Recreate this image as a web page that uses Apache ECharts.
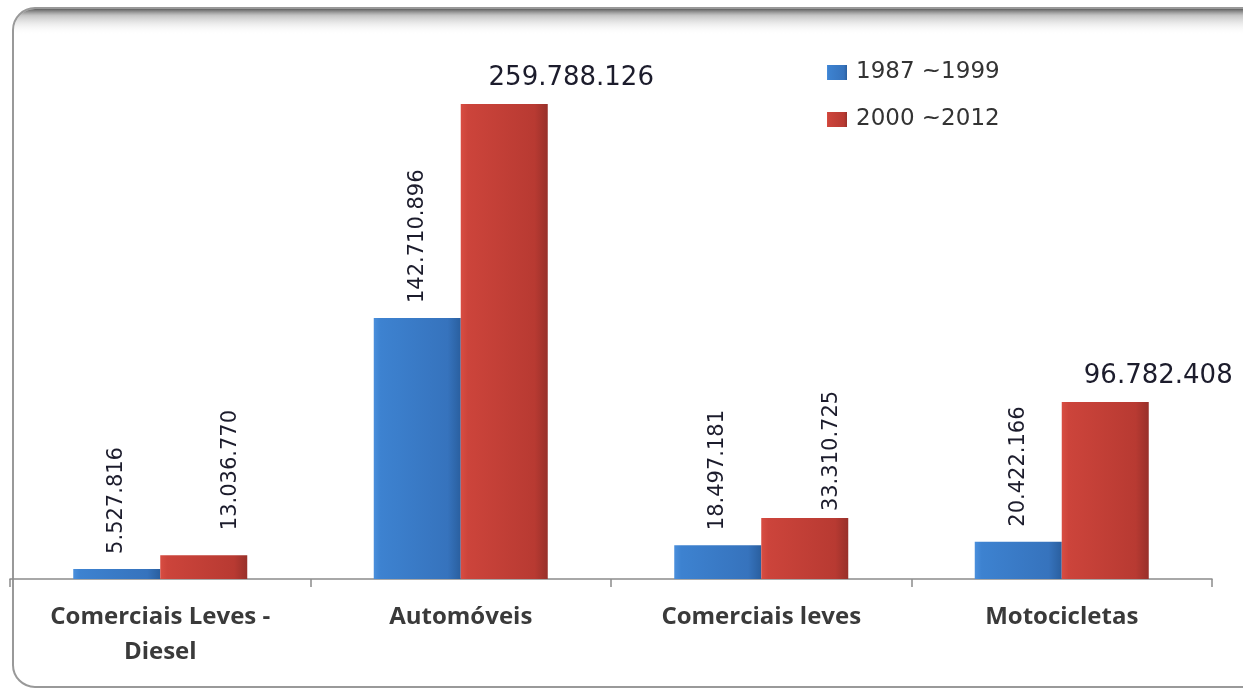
<!DOCTYPE html>
<html>
<head>
<meta charset="utf-8">
<script src="https://cdn.jsdelivr.net/npm/echarts@6/dist/echarts.min.js"></script>
<style>html,body{margin:0;padding:0;background:#fff;}#c{width:1243px;height:692px;}</style>
</head>
<body>
<div id="c"></div>
<script>
var categories = ['Comerciais Leves -\nDiesel', 'Automóveis', 'Comerciais leves', 'Motocicletas'];
var seriesNames = ['1987 ~1999', '2000 ~2012'];
var values1987 = [5527816, 142710896, 18497181, 20422166];
var values2000 = [13036770, 259788126, 33310725, 96782408];
var horizontalLabelIdx = [1, 3];   // red labels drawn horizontally
var horizontalOffsets = [67, 53];

function fmt(v) { return String(v).replace(/\B(?=(\d{3})+(?!\d))/g, '.'); }

var chart = echarts.init(document.getElementById('c'));

var blueGrad = new echarts.graphic.LinearGradient(0, 0, 1, 0, [
  {offset: 0, color: '#4a8fdc'}, {offset: 0.08, color: '#3d82d0'},
  {offset: 0.85, color: '#3673bd'}, {offset: 1, color: '#2a5f9f'}]);
var redGrad = new echarts.graphic.LinearGradient(0, 0, 1, 0, [
  {offset: 0, color: '#d84d42'}, {offset: 0.08, color: '#cc443b'},
  {offset: 0.85, color: '#b83a32'}, {offset: 1, color: '#98302a'}]);

var rotLabel = {
  show: true, position: 'top', rotate: 90, align: 'left', verticalAlign: 'middle',
  distance: 15, fontFamily: 'DejaVu Sans', fontSize: 21, color: '#1c1c2c',
  formatter: function (p) { return fmt(p.value); }
};

var redRotOffsets = [[10, 27], null, [-8, 27], null];
var redData = values2000.map(function (v, i) {
  var k = horizontalLabelIdx.indexOf(i);
  if (k >= 0) {
    return {value: v, label: {rotate: 0, align: 'center', verticalAlign: 'bottom',
      distance: 13, fontSize: 26, offset: [horizontalOffsets[k], 0]}};
  }
  return {value: v, label: {offset: redRotOffsets[i]}};
});

chart.setOption({
  animation: false,
  graphic: [
    {type: 'rect', z: -10, shape: {x: 13, y: 8, width: 1300, height: 679, r: 22},
      style: {fill: '#fff', stroke: '#999', lineWidth: 2}},
    {type: 'rect', z: -9, shape: {x: 14, y: 9, width: 1300, height: 26, r: [21, 0, 0, 0]},
      style: {fill: new echarts.graphic.LinearGradient(0, 0, 0, 1, [
        {offset: 0, color: 'rgba(80,80,80,0.9)'}, {offset: 0.25, color: 'rgba(140,140,140,0.5)'},
        {offset: 1, color: 'rgba(255,255,255,0)'}])}}
  ],
  legend: {
    orient: 'vertical', left: 822, top: 56, itemWidth: 20, itemHeight: 15, itemGap: 24,
    icon: 'rect',
    textStyle: {fontFamily: 'DejaVu Sans', fontSize: 23, color: '#333', padding: [0, 0, 0, 4]},
    data: seriesNames
  },
  grid: {left: 10, right: 31, top: 30.5, bottom: 113, containLabel: false},
  xAxis: {
    type: 'category', data: categories,
    axisLine: {lineStyle: {color: '#8c8c8c', width: 1.5}},
    axisTick: {show: true, length: 8, lineStyle: {color: '#8c8c8c', width: 1.5}},
    axisLabel: {fontFamily: 'Open Sans', fontWeight: 'bold', fontSize: 24, color: '#3a3a3a',
      lineHeight: 35, margin: 21, interval: 0}
  },
  yAxis: {type: 'value', min: 0, max: 300000000, show: false, splitLine: {show: false}},
  series: [
    {name: seriesNames[0], type: 'bar', data: values1987, barWidth: 87, barGap: '0%',
      itemStyle: {color: blueGrad}, label: rotLabel},
    {name: seriesNames[1], type: 'bar', data: redData, barWidth: 87, barGap: '0%',
      itemStyle: {color: redGrad}, label: rotLabel}
  ]
});
</script>
</body>
</html>
